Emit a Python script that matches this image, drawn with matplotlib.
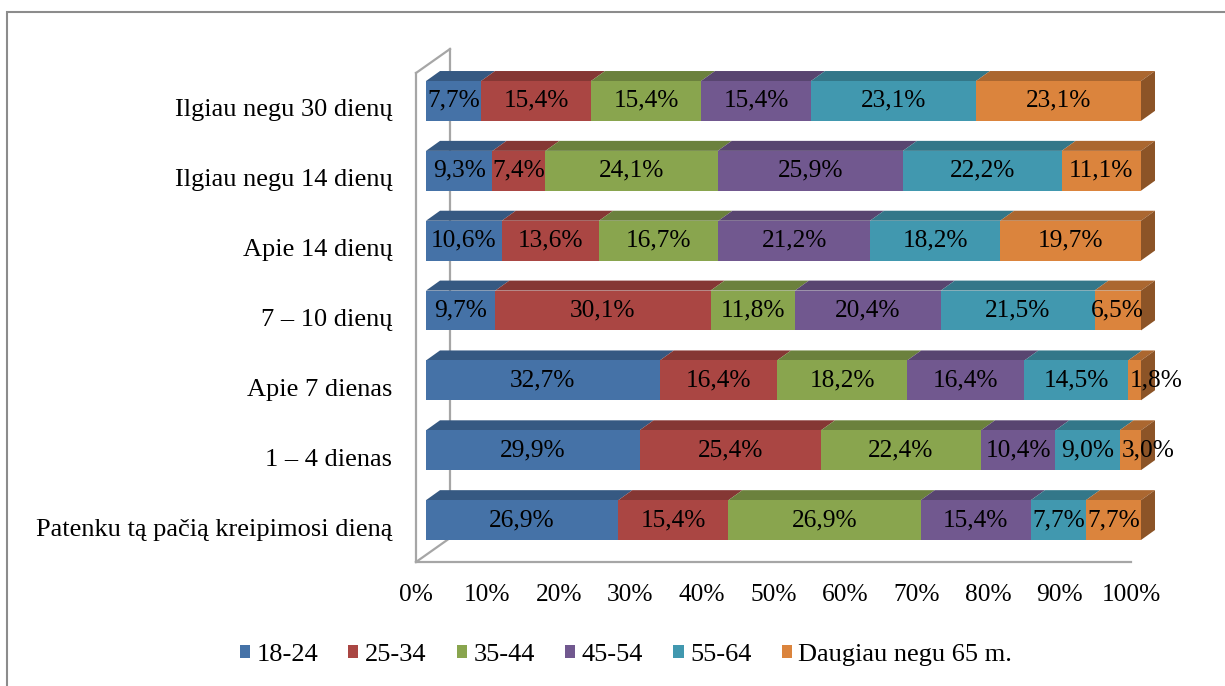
import numpy as np
import matplotlib
matplotlib.use("Agg")
import matplotlib.pyplot as plt
from matplotlib.patches import Polygon, Rectangle, Patch

plt.rcParams['font.family'] = ['Liberation Serif', 'DejaVu Serif']

# categories listed bottom to top
categories = ['Patenku tą pačią kreipimosi dieną', '1 – 4 dienas', 'Apie 7 dienas',
              '7 – 10 dienų', 'Apie 14 dienų', 'Ilgiau negu 14 dienų', 'Ilgiau negu 30 dienų']

age_18_24 = [26.9, 29.9, 32.7, 9.7, 10.6, 9.3, 7.7]
age_25_34 = [15.4, 25.4, 16.4, 30.1, 13.6, 7.4, 15.4]
age_35_44 = [26.9, 22.4, 18.2, 11.8, 16.7, 24.1, 15.4]
age_45_54 = [15.4, 10.4, 16.4, 20.4, 21.2, 25.9, 15.4]
age_55_64 = [7.7, 9.0, 14.5, 21.5, 18.2, 22.2, 23.1]
age_65_up = [7.7, 3.0, 1.8, 6.5, 19.7, 11.1, 23.1]

series_names = ['18-24', '25-34', '35-44', '45-54', '55-64', 'Daugiau negu 65 m.']
series = [age_18_24, age_25_34, age_35_44, age_45_54, age_55_64, age_65_up]

x_ticks = [0, 10, 20, 30, 40, 50, 60, 70, 80, 90, 100]

front_colors = ['#4572A7', '#AA4643', '#89A54E', '#71588F', '#4198AF', '#DB843D']
top_colors = ['#365982', '#853734', '#6B813D', '#584570', '#337789', '#AB6730']
side_color = '#8C5427'
frame_color = '#A6A6A6'

W, H = 1225, 686
fig = plt.figure(figsize=(W / 100, H / 100), dpi=100)
ax = fig.add_axes([416 / W, (H - 562) / H, 715 / W, 489 / H])
ax.set_xlim(0, 100)
ax.set_ylim(-0.5, len(categories) - 0.5)
for s in ax.spines.values():
    s.set_visible(False)

# pixel -> data unit conversion for the oblique depth offsets
px_x = 100 / ax.bbox.width
px_y = len(categories) / ax.bbox.height


def depth(dx, dy):
    return np.array([dx * px_x, dy * px_y])


front_off = depth(10, 7)
back_off = depth(24, 17)
wall_off = depth(34, 24)
bar_h = 0.57

# back wall and floor outline
y0, y1 = -0.5, len(categories) - 0.5
lw = 1.6
ax.plot([0, 0], [y0, y1], color=frame_color, lw=lw, clip_on=False, zorder=1)
ax.plot([0, wall_off[0]], [y1, y1 + wall_off[1]], color=frame_color, lw=lw, clip_on=False, zorder=1)
ax.plot([wall_off[0], wall_off[0]], [y0 + wall_off[1], y1 + wall_off[1]],
        color=frame_color, lw=lw, clip_on=False, zorder=1)
ax.plot([0, wall_off[0]], [y0, y0 + wall_off[1]], color=frame_color, lw=lw, clip_on=False, zorder=1)
ax.plot([0, 100], [y0, y0], color=frame_color, lw=lw, clip_on=False, zorder=1)

data = np.array(series)  # shape (n_series, n_categories)
totals = data.sum(axis=0)
renderer = fig.canvas.get_renderer()

for i in range(len(categories)):
    shares = data[:, i] / totals[i] * 100
    lefts = np.concatenate([[0], np.cumsum(shares)[:-1]])
    top = i + bar_h / 2
    bot = i - bar_h / 2
    prev_right = None
    for k, (l, w) in enumerate(zip(lefts, shares)):
        r = l + w
        # top face
        pts = [(l + front_off[0], top + front_off[1]), (r + front_off[0], top + front_off[1]),
               (r + back_off[0], top + back_off[1]), (l + back_off[0], top + back_off[1])]
        ax.add_patch(Polygon(pts, closed=True, facecolor=top_colors[k], edgecolor='none',
                             clip_on=False, zorder=2))
        # front face
        ax.add_patch(Rectangle((l + front_off[0], bot + front_off[1]), w, bar_h,
                               facecolor=front_colors[k], edgecolor='none',
                               clip_on=False, zorder=3))
        label = f"{data[k, i]:.1f}%".replace('.', ',')
        t = ax.text(l + w / 2 + front_off[0], i + front_off[1], label, ha='center', va='center',
                    fontsize=18.3, color='black', zorder=5, clip_on=False)
        bb = t.get_window_extent(renderer)
        # labels that would run into their neighbour start at the segment edge instead
        if prev_right is not None and bb.x0 < prev_right + 1:
            t.set_ha('left')
            t.set_x(l + front_off[0] + 2 * px_x)
            bb = t.get_window_extent(renderer)
        prev_right = bb.x1
    # right side face of the last segment
    r = lefts[-1] + shares[-1]
    pts = [(r + front_off[0], bot + front_off[1]), (r + front_off[0], top + front_off[1]),
           (r + back_off[0], top + back_off[1]), (r + back_off[0], bot + back_off[1])]
    ax.add_patch(Polygon(pts, closed=True, facecolor=side_color, edgecolor='none',
                         clip_on=False, zorder=2))

ax.set_yticks(range(len(categories)))
ax.set_yticklabels(categories, fontsize=19)
ax.set_xticks(x_ticks)
ax.set_xticklabels([f"{t}%" for t in x_ticks], fontsize=18.3)
ax.tick_params(axis='y', length=0, pad=17)
ax.tick_params(axis='x', length=0, pad=16)

handles = [Patch(facecolor=c, edgecolor='none') for c in front_colors]
fig.legend(handles, series_names, loc='center', bbox_to_anchor=(0.511, 0.045), ncol=6,
           frameon=False, fontsize=19, handlelength=0.38, handleheight=0.38,
           handletextpad=0.25, columnspacing=1.15)

# chart area border
fig.add_artist(Rectangle((7 / W, -0.1), 1.2, (H - 12) / H + 0.1, transform=fig.transFigure,
                         facecolor='none', edgecolor='#8C8C8C', lw=1.5))

fig.savefig('out.png', dpi=100)
